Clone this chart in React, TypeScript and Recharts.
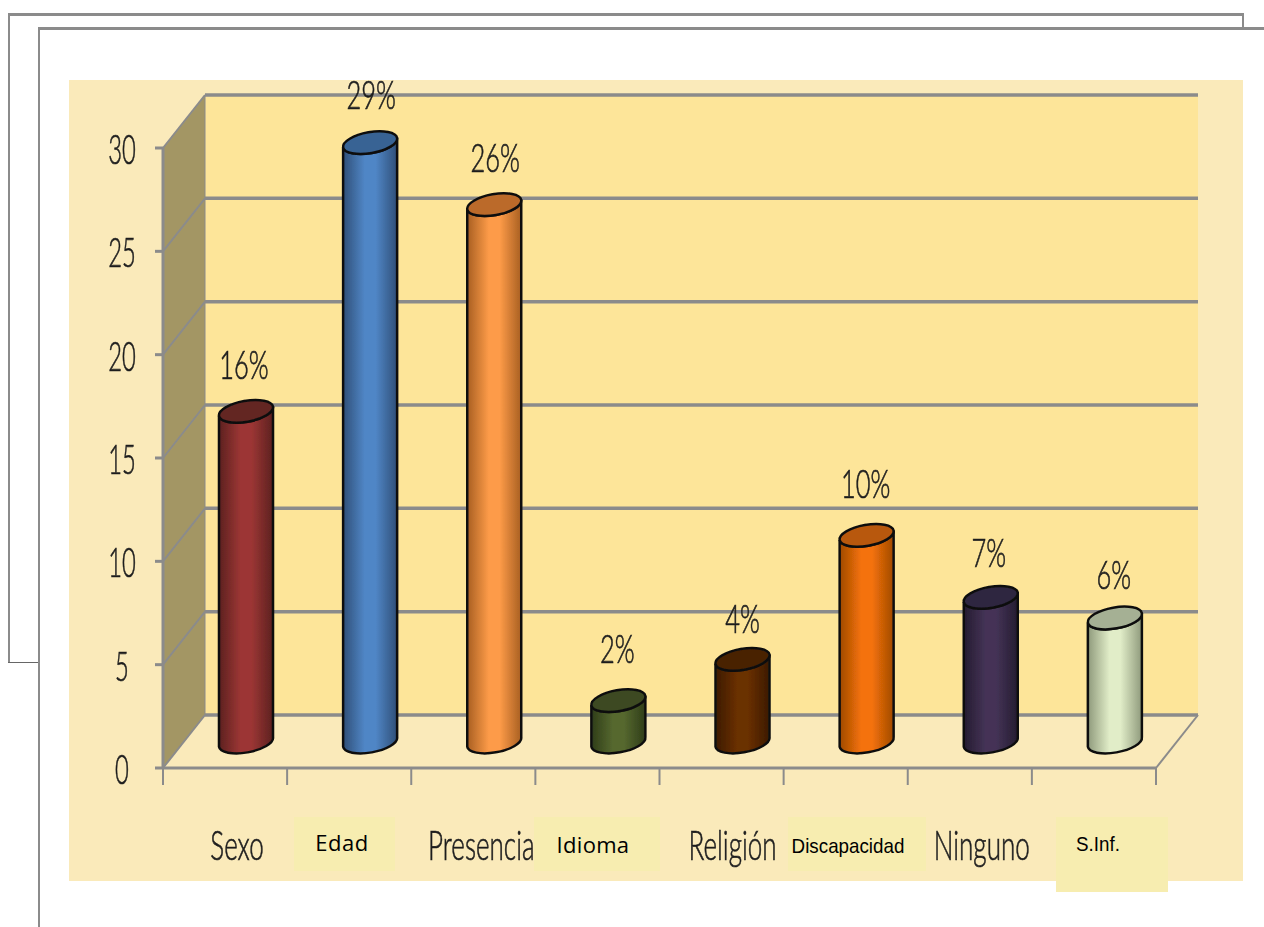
import { Bar, BarChart, CartesianGrid, LabelList, XAxis, YAxis } from 'recharts';

const categories = ['Sexo', 'Edad', 'Presencia', 'Idioma', 'Religión', 'Discapacidad', 'Ninguno', 'S.Inf.'];
const values = [16, 29, 26, 2, 4, 10, 7, 6];
const yTicks = [0, 5, 10, 15, 20, 25, 30];

// side, middle and lid colour of each cylinder
const sideColors = ['#5c2120', '#2f4f78', '#a85f22', '#2f3d18', '#3c1a02', '#a04a04', '#241c30', '#8f9a7c'];
const midColors = ['#9c3634', '#5086c6', '#fd9b48', '#56682f', '#6a3002', '#f47208', '#443356', '#e1edc8'];
const lidColors = ['#632523', '#386394', '#bb6a2c', '#3c4a20', '#4a2303', '#b85808', '#2e2540', '#a5b094'];

const data = categories.map((name, i) => ({ name, value: values[i] }));

const W = 1264;
const H = 927;
const PLOT = { left: 163, top: 148, right: 1156, bottom: 768 };
const DEPTH_X = 42;
const DEPTH_Y = 53;
const BAR_DX = 21;
const BAR_DY = 26;
const LID_ANGLE = -10;
const GRAY = '#8b8b8b';
const PANEL = '#faeaba';
const WALL = '#fde599';
const SIDE_WALL = '#a39664';
const PATCH = '#f7edb0';
const INK = '#1f1f1f';

// the value labels were nudged by hand in the original
const valueDx = [-1, 2, 2, 0, 1, 0, -1, 0];
const valueDy = [0, -2, -1, -6, 6, -5, 2, 3];

// small text boxes pasted over the axis labels, as dx from the tick
const labelDx = [12, -7, 8, -4, 11, 2, 12, 5];
const patches: Record<string, { x: number; y: number; w: number; h: number; tx: number; ty: number; size: number; family: string; spacing: number; sx: number }> = {
  Edad: { x: 294, y: 817, w: 101, h: 54, tx: 342, ty: 851, size: 22, family: 'Open Sans', spacing: 0.5, sx: 1 },
  Idioma: { x: 534, y: 817, w: 126, h: 54, tx: 593, ty: 853, size: 22, family: 'Open Sans', spacing: 0.3, sx: 1 },
  Discapacidad: { x: 788, y: 817, w: 138, h: 54, tx: 848, ty: 853, size: 20, family: 'Liberation Sans', spacing: 0, sx: 0.94 },
  'S.Inf.': { x: 1056, y: 817, w: 112, h: 75, tx: 1098, ty: 851, size: 20, family: 'Liberation Sans', spacing: 0, sx: 0.94 },
};

const Stretched = ({ x, y, children, size = 28, sx = 0.85, sy = 1.5 }: any) => (
  <g filter="url(#soft)">
    <text
      transform={`translate(${x},${y}) scale(${sx},${sy})`}
      textAnchor="middle"
      fontFamily="Lato"
      fontWeight={300}
      fontSize={size}
      fill={INK}
      stroke={INK}
      strokeWidth={0.45}
    >
      {children}
    </text>
  </g>
);

// walls and floor edge sit in their own svg under the chart
const Backdrop = () => {
  const { left, top, right, bottom } = PLOT;
  return (
    <svg width={W} height={H} style={{ position: 'absolute', left: 0, top: 0 }}>
      <polygon points={`${left},${top} ${left + DEPTH_X},${top - DEPTH_Y} ${left + DEPTH_X},${bottom - DEPTH_Y} ${left},${bottom}`} fill={SIDE_WALL} />
      <rect x={left + DEPTH_X} y={top - DEPTH_Y} width={right - left} height={bottom - top} fill={WALL} />
      <line x1={right} y1={bottom} x2={right + DEPTH_X} y2={bottom - DEPTH_Y} stroke={GRAY} strokeWidth={2} />
      <line x1={left + DEPTH_X} y1={top - DEPTH_Y} x2={left + DEPTH_X} y2={bottom - DEPTH_Y} stroke={GRAY} strokeWidth={1} />
    </svg>
  );
};

// each grid line runs across the side wall and then along the back wall
const GridLine = ({ x1, y1, x2, y2 }: any) => (
  <g key={y1} filter="url(#soft)">
    <line x1={x1} y1={y1} x2={x1 + DEPTH_X} y2={y1 - DEPTH_Y} stroke={GRAY} strokeWidth={2} />
    <line x1={x1 + DEPTH_X} y1={y2 - DEPTH_Y} x2={x2 + DEPTH_X} y2={y2 - DEPTH_Y} stroke={GRAY} strokeWidth={3.5} />
  </g>
);

const Cylinder = ({ x, y, width, height, index }: any) => {
  const left = x + BAR_DX;
  const right = left + width;
  const top = y - BAR_DY;
  const bottom = top + height;
  const rx = width / 2 + 0.4;
  const ry = 10.5;
  const tilt = 4.7;
  const arc = `A${rx} ${ry} ${LID_ANGLE}`;
  return (
    <g filter="url(#soft)">
      <defs>
        <linearGradient id={`cyl${index}`} x1="0" x2="1" y1="0" y2="0">
          <stop offset="0" stopColor={sideColors[index]} />
          <stop offset="0.4" stopColor={midColors[index]} />
          <stop offset="0.6" stopColor={midColors[index]} />
          <stop offset="1" stopColor={sideColors[index]} />
        </linearGradient>
      </defs>
      <path
        d={`M${left} ${top + tilt} L${left} ${bottom + tilt} ${arc} 0 0 ${right} ${bottom - tilt} L${right} ${top - tilt} ${arc} 0 1 ${left} ${top + tilt} Z`}
        fill={`url(#cyl${index})`}
        stroke="#111"
        strokeWidth={2.5}
      />
      <ellipse
        cx={left + width / 2}
        cy={top}
        rx={rx}
        ry={ry}
        transform={`rotate(${LID_ANGLE} ${left + width / 2} ${top})`}
        fill={lidColors[index]}
        stroke="#111"
        strokeWidth={2.5}
      />
    </g>
  );
};

const BarValue = ({ x, y, width, value, index }: any) => (
  <Stretched x={x + BAR_DX + width / 2 - 1 + valueDx[index]} y={y - BAR_DY - 32 + valueDy[index]} size={26} sx={0.98} sy={1.55}>
    {value}%
  </Stretched>
);

const YTick = ({ y, payload }: any) => (
  <Stretched x={122} y={y + 16}>
    {payload.value}
  </Stretched>
);

const XTick = ({ x, payload, index }: any) => {
  const band = (PLOT.right - PLOT.left) / categories.length;
  const patch = patches[payload.value];
  const axisY = PLOT.bottom;
  return (
    <g>
      <line x1={x - band / 2} y1={axisY} x2={x - band / 2} y2={axisY + 17} stroke={GRAY} strokeWidth={2} />
      {index === categories.length - 1 && (
        <line x1={x + band / 2} y1={axisY} x2={x + band / 2} y2={axisY + 17} stroke={GRAY} strokeWidth={2} />
      )}
      {patch ? (
        <g>
          <rect x={patch.x} y={patch.y} width={patch.w} height={patch.h} fill={PATCH} />
          <text
            transform={`translate(${patch.tx},${patch.ty}) scale(${patch.sx},1)`}
            textAnchor="middle"
            fontFamily={patch.family}
            fontSize={patch.size}
            letterSpacing={patch.spacing}
            fill="#000"
          >
            {payload.value}
          </text>
        </g>
      ) : (
        <Stretched x={x + labelDx[index]} y={860} sx={0.93}>
          {payload.value}
        </Stretched>
      )}
    </g>
  );
};

const frame = (x: number, y: number, w: number, h: number, color = GRAY): any => ({
  position: 'absolute',
  left: x,
  top: y,
  width: w,
  height: h,
  background: color,
});

const App = () => (
  <div style={{ position: 'absolute', left: 0, top: 0, width: W, height: H, overflow: 'hidden', background: '#fff' }}>
    <div style={frame(8, 13, 1236, 3)} />
    <div style={frame(1242, 13, 2, 16)} />
    <div style={frame(8, 13, 2, 650)} />
    <div style={frame(8, 662, 30, 1, '#666')} />
    <div style={frame(38, 27, 1226, 3)} />
    <div style={frame(38, 27, 2, 900)} />
    <div style={frame(69, 80, 1174, 801, PANEL)} />
    <Backdrop />
    <div style={{ position: 'absolute', left: 0, top: 0 }}>
      <BarChart
        width={W}
        height={H}
        data={data}
        barSize={54}
        margin={{ left: PLOT.left - 60, top: PLOT.top, right: W - PLOT.right, bottom: H - PLOT.bottom - 60 }}
      >
        <defs>
          <filter id="soft" filterUnits="userSpaceOnUse" x="0" y="0" width={W} height={H}>
            <feGaussianBlur stdDeviation="0.5" />
          </filter>
        </defs>
        <CartesianGrid vertical={false} horizontal={GridLine as any} />
        <XAxis
          dataKey="name"
          height={60}
          interval={0}
          axisLine={{ stroke: GRAY, strokeWidth: 3 }}
          tickLine={false}
          tick={XTick as any}
        />
        <YAxis
          width={60}
          domain={[0, 30]}
          ticks={yTicks}
          axisLine={{ stroke: GRAY, strokeWidth: 3 }}
          tickLine={{ stroke: GRAY, strokeWidth: 3 }}
          tickSize={8}
          tick={YTick as any}
        />
        <Bar dataKey="value" isAnimationActive={false} shape={Cylinder as any}>
          <LabelList dataKey="value" content={BarValue as any} />
        </Bar>
      </BarChart>
    </div>
  </div>
);

export default App;
